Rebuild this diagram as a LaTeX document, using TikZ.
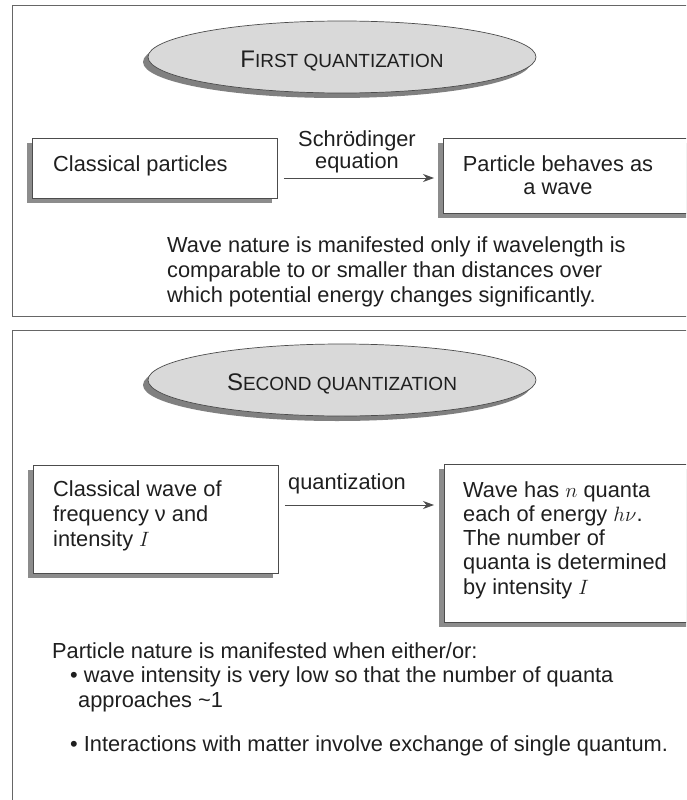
\documentclass[tikz,border=0pt]{standalone}
\usepackage{fontspec}
\setmainfont{Liberation Sans}
\usetikzlibrary{arrows.meta,calc,shapes.geometric,shadows}
\begin{document}
\begin{tikzpicture}[x=1pt,y=-1pt,
  every node/.style={font=\fontsize{21.8}{25}\selectfont, text=black!88, inner sep=0pt},
  frame/.style={draw=black!60, line width=1pt},
  boxmain/.style={draw=black!70, line width=0.8pt, fill=white, anchor=north west,
    drop shadow={shadow xshift=-5pt, shadow yshift=-5pt, fill=black!45, opacity=1}},
  ellmain/.style={ellipse, draw=black!70, fill=black!15, line width=0.7pt,
    minimum width=388pt, minimum height=72pt,
    drop shadow={shadow xshift=-5pt, shadow yshift=-5pt, fill=black!50, opacity=1}},
  arr/.style={-{Stealth[length=11pt,width=8pt]}, draw=black!70, line width=0.8pt},
  capbig/.style={font=\fontsize{24}{26}\selectfont},
]
\useasboundingbox (0,0) rectangle (686,800);
\clip (0,0) rectangle (686,800);
\fill[white] (0,0) rectangle (686,800);

% ---------- first panel ----------
\draw[frame] (12,6) rectangle (700,316);
\node[ellmain] (e1) at (342,57) {};
\node (t0) at ($(e1.center)+(0,4)$) {{\fontsize{24}{26}\selectfont F}{\fontsize{19}{21}\selectfont IRST QUANTIZATION}};

\node[boxmain, minimum width=245pt, minimum height=60pt] (b1) at (32,138) {};
\node[anchor=base west] (t1) at (53,171) {Classical particles};

\node[boxmain, minimum width=262pt, minimum height=75pt] (b2) at (443,138) {};
\node[align=center] (t2) at (558,175) {Particle behaves as\\[-2pt]a wave};

\node[align=center] (l1) at (357,152) {Schr\"odinger\\[-3pt]equation};
\coordinate (y1) at (0,178);
\draw[arr, shorten <=6pt, shorten >=9pt] (b1.east |- y1) -- (b2.west |- y1);

\node[align=left, anchor=west] (p1) at (167,272) {Wave nature is manifested only if wavelength is\\comparable to or smaller than distances over\\which potential energy changes significantly.};

% ---------- second panel ----------
\draw[frame] (12,330) rectangle (700,810);
\node[ellmain] (e2) at (342,380) {};
\node (s0) at ($(e2.center)+(0,4)$) {{\fontsize{24}{26}\selectfont S}{\fontsize{19}{21}\selectfont ECOND QUANTIZATION}};

\node[boxmain, minimum width=245pt, minimum height=108pt] (b3) at (33,465) {};
\node[align=left, anchor=west] (t3) at (53,516) {Classical wave of\\frequency ν and\\intensity $I$};

\node[boxmain, minimum width=262pt, minimum height=158pt] (b4) at (444,464) {};
\node[align=left, anchor=west, font=\fontsize{21.8}{24.3}\selectfont] (t4) at (463,540) {Wave has $n$ quanta\\each of energy $h\nu$.\\The number of\\quanta is determined\\by intensity $I$};

\node (l2) at (347,484) {quantization};
\coordinate (y2) at (0,505);
\draw[arr, shorten <=6pt, shorten >=10pt] (b3.east |- y2) -- (b4.west |- y2);

\node[anchor=west] (q1) at (52,651) {Particle nature is manifested when either/or:};
\node[anchor=west] (q2) at (70,677) {• wave intensity is very low so that the number of quanta};
\node[anchor=west] (q3) at (78,702) {approaches \textasciitilde 1};
\node[anchor=west] (q4) at (70,746) {• Interactions with matter involve exchange of single quantum.};
\end{tikzpicture}
\end{document}
